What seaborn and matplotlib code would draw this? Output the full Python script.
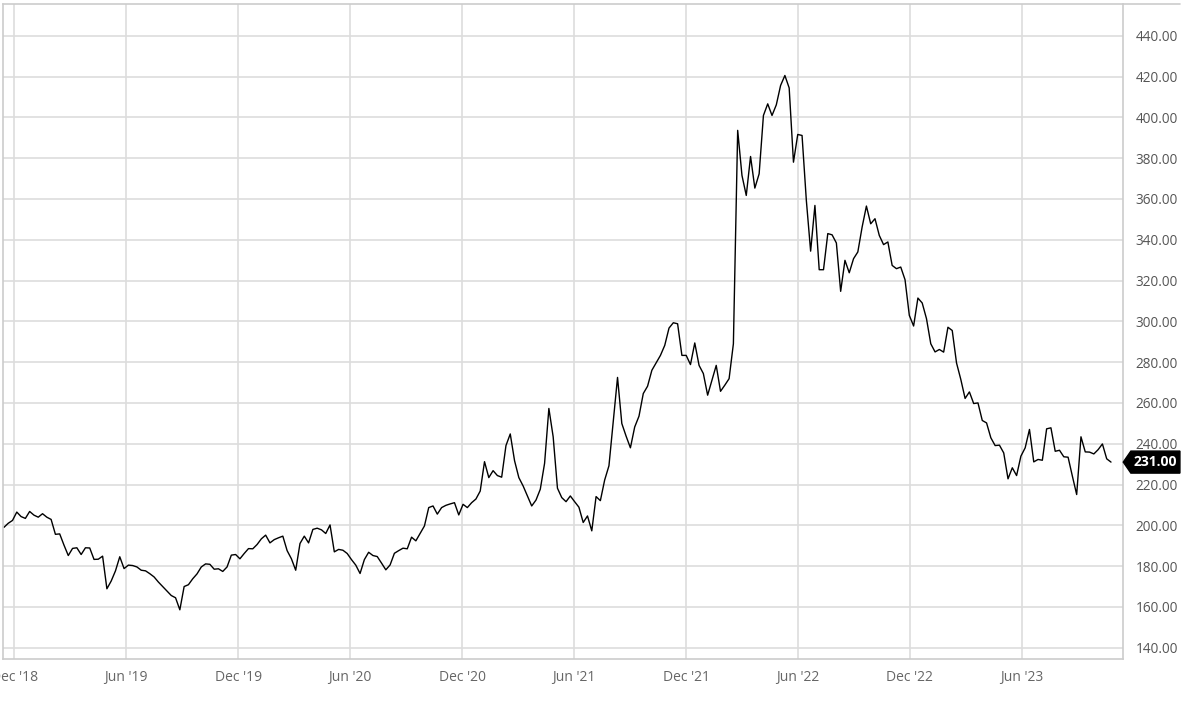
import pandas as pd
import matplotlib
matplotlib.use("Agg")
import matplotlib.pyplot as plt
import matplotlib.dates as mdates
from matplotlib.patches import Polygon
from matplotlib.transforms import blended_transform_factory
import seaborn as sns

# weekly closing prices
start_date = "2018-11-14"
price = [
    199, 201, 202.4, 206.5, 204.3, 203.4, 206.8, 205, 204, 205.7, 204, 202.9,
    195.6, 195.8, 190.3, 185.2, 188.7, 189, 185.7, 189, 188.9, 183.3, 183.4, 184.9,
    168.9, 172.7, 177.7, 184.6, 178.8, 180.5, 180.3, 179.6, 178, 177.7, 176.3, 174.7,
    172.2, 170, 167.8, 165.6, 164.5, 158.6, 170, 170.9,
    173.8, 176.2, 179.6, 181.1, 180.9, 178.5, 178.7, 177.4, 179.6, 185.4, 185.7, 183.6,
    186.2, 188.6, 188.5, 190.6, 193.4, 195.2, 191.4, 193, 193.9, 194.7, 187.6, 183.6,
    178, 191.1, 194.7, 191.4, 198, 198.6, 197.8, 196, 200.2, 187, 188.2, 187.8,
    186.2, 183.2, 180.5, 176.4, 183.2, 186.8, 185.2,
    184.7, 181.5, 178.2, 180.6, 186.3, 187.6, 188.8, 188.5, 194.2, 192.4, 196.1, 199.7,
    208.7, 209.5, 205.5, 208.7, 209.8, 210.5, 211.1, 205.1, 210.3, 208.7, 211.1, 212.9,
    216.8, 231.2, 223.4, 226.8, 224.4, 223.6, 239.1, 244.8, 231.7, 223.4, 219.3, 214.4,
    209.5, 212.4, 217.7, 230.4, 257.3, 243.4, 218.2, 213.6, 211.6, 214.4, 211.6, 208.9,
    201.4, 204.6, 197.3, 214.1, 212.1, 222.2, 229.2, 250.9, 272.5, 249.9, 243.7, 238,
    248.2, 253.5, 264.6, 268.2, 276, 279.6, 283.3, 288.2, 296.7, 299.3, 298.8, 283.3,
    283.3, 278.8, 289.4, 278.4, 274.4, 263.8, 271.1, 278.4, 265.7, 268.7, 271.9, 289,
    393.6, 371.5, 361.7, 380.8, 365.3, 372.3, 400.9, 406.6, 400.9, 406.1, 415.6, 420.5,
    414.4, 378, 391.6, 391.1, 359.3, 334.4, 356.8, 325.3, 325.3, 343, 342.4, 338.4,
    314.7, 329.9, 323.8, 330.7, 334, 346.2, 356.5, 347.8, 350.3, 342.1, 337.6, 338.9,
    327.4, 325.8, 326.6, 320.4, 302.9, 297.7, 311.4, 309, 301.3,
    289, 285, 286.2, 284.9, 297.1, 295.5, 279.6, 271.5, 262.2, 265.4, 259.7, 260,
    251.4, 250.2, 242.9, 239.1, 239.3, 235.5, 222.8, 228.2, 224.4, 233.9, 238, 247,
    231.1, 232.3, 231.9, 247.3, 247.8, 236.3, 236.8, 233.6, 233.4, 224.1, 215.1, 243.4,
    236, 235.9, 235, 237.1, 239.9, 232.6, 231,
]
last_price = 231.00
y_ticks = list(range(140, 441, 20))

df = pd.DataFrame({
    "date": pd.date_range(start_date, periods=len(price), freq="7D"),
    "price": price,
})

sns.set_theme(style="white")
plt.rcParams["font.family"] = ["Open Sans", "DejaVu Sans"]

fig = plt.figure(figsize=(12, 7.02), dpi=100)
ax = fig.add_axes([0.00275, 0.0613, 0.9333, 0.9326])

sns.lineplot(data=df, x="date", y="price", color="black", linewidth=1.0, ax=ax)

ax.set_xlim(pd.Timestamp("2018-11-13"), pd.Timestamp("2023-11-14"))
ax.set_ylim(134.5, 455.4)

ax.xaxis.set_major_locator(mdates.MonthLocator(bymonth=[6, 12]))
ax.xaxis.set_major_formatter(mdates.DateFormatter("%b '%y"))
ax.yaxis.tick_right()
ax.set_yticks(y_ticks)
ax.set_yticklabels([f"{v:.2f}" for v in y_ticks])
ax.tick_params(axis="x", length=0, pad=8, labelsize=10, labelcolor="#666666")
ax.tick_params(axis="y", length=0, pad=9, labelsize=9.8, labelcolor="#555555")
ax.set_xlabel("")
ax.set_ylabel("")

ax.grid(True, color="#dddddd", linewidth=1.2)
ax.set_axisbelow(True)
for s in ax.spines.values():
    s.set_color("#cccccc")
    s.set_linewidth(1.2)

# top border continues over the price scale
ax.plot([1.0, 1.0506], [1.0, 1.0], transform=ax.transAxes, color="#cccccc",
        linewidth=1.2, clip_on=False)

# last price tag
tr = blended_transform_factory(ax.transAxes, ax.transData)
h = 5.4
tag = Polygon([(1.0, last_price), (1.0068, last_price + h), (1.0506, last_price + h),
               (1.0506, last_price - h), (1.0068, last_price - h)],
              closed=True, transform=tr, facecolor="black", edgecolor="black",
              clip_on=False, zorder=5)
ax.add_patch(tag)
ax.text(1.0285, last_price, f"{last_price:.2f}", transform=tr, color="white",
        fontsize=10, fontweight="bold", ha="center", va="center", zorder=6,
        clip_on=False)

fig.savefig("out.png", dpi=100)
